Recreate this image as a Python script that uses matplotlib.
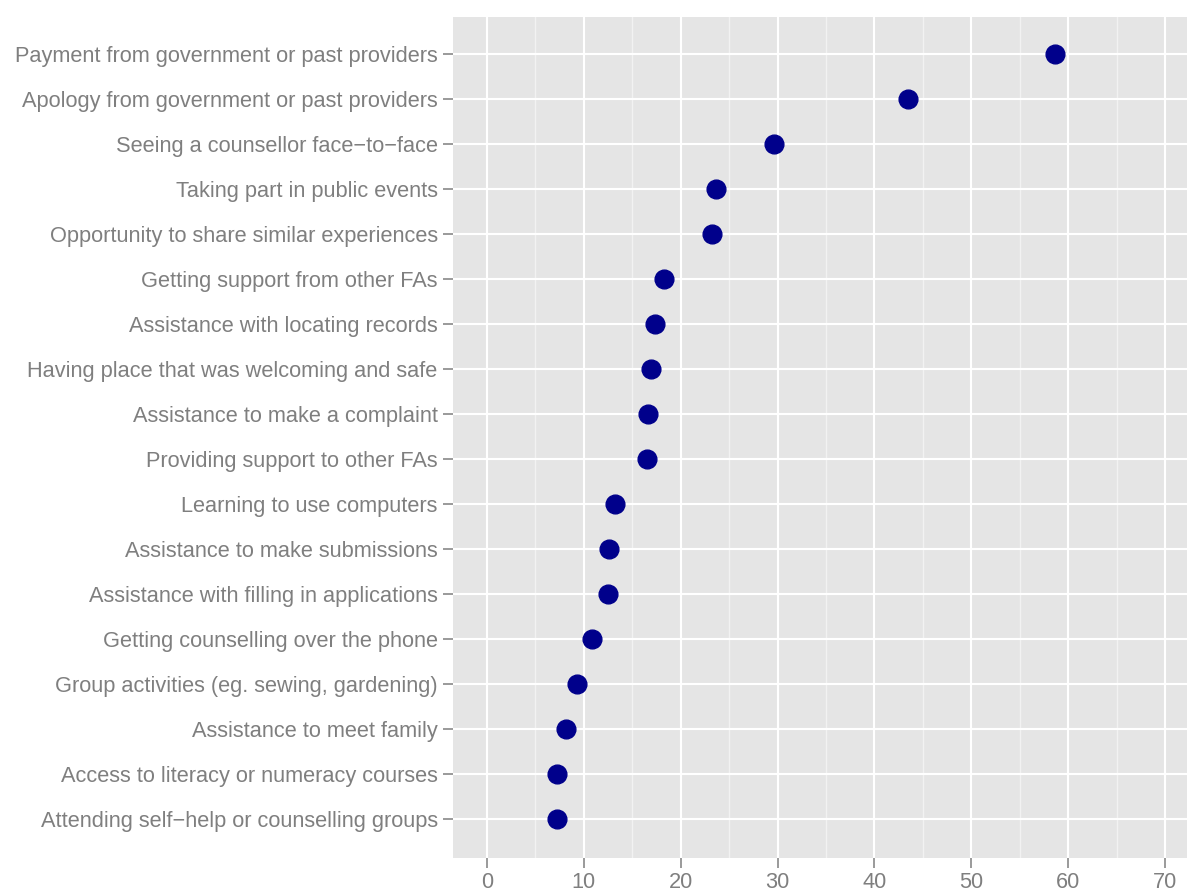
import numpy as np
import matplotlib.pyplot as plt

# Categories (top to bottom) and percentages
a_labels = [
    "Payment from government or past providers",
    "Apology from government or past providers",
    "Seeing a counsellor face\u2212to\u2212face",
    "Taking part in public events",
    "Opportunity to share similar experiences",
    "Getting support from other FAs",
    "Assistance with locating records",
    "Having place that was welcoming and safe",
    "Assistance to make a complaint",
    "Providing support to other FAs",
    "Learning to use computers",
    "Assistance to make submissions",
    "Assistance with filling in applications",
    "Getting counselling over the phone",
    "Group activities (eg. sewing, gardening)",
    "Assistance to meet family",
    "Access to literacy or numeracy courses",
    "Attending self\u2212help or counselling groups",
]
a_values = [58.6, 43.5, 29.6, 23.6, 23.2, 18.3, 17.4, 16.9, 16.6, 16.5,
            13.2, 12.6, 12.5, 10.8, 9.3, 8.2, 7.2, 7.2]
a_xticks = [0, 10, 20, 30, 40, 50, 60, 70]

plt.rcParams["font.family"] = ["Liberation Sans", "DejaVu Sans"]

fig = plt.figure(figsize=(11.87, 8.91), dpi=100)
ax = fig.add_axes([453 / 1187, 33 / 891, 746 / 1187, 841 / 891])

n = len(a_labels)
y_pos = np.arange(n, 0, -1)

ax.set_facecolor("#e5e5e5")
for s in ax.spines.values():
    s.set_visible(False)

ax.set_xlim(-3.5, 73.5)
ax.set_ylim(1 - 39 / 45, n + 37 / 45)

ax.set_xticks(a_xticks)
ax.set_xticks(np.arange(5, 75, 10), minor=True)
ax.set_yticks(y_pos)
ax.set_yticklabels(a_labels)

ax.grid(True, which="major", color="white", linewidth=1.5)
ax.grid(True, which="minor", axis="x", color="#f2f2f2", linewidth=1.0)
ax.set_axisbelow(True)

ax.tick_params(axis="both", which="major", colors="#7f7f7f", labelsize=15.7,
               length=7, width=1.1, pad=4)
ax.tick_params(axis="both", which="minor", length=0)
ax.tick_params(axis="x", pad=3)

ax.plot(a_values, y_pos, linestyle="none", marker="o", markersize=13.5,
        color="#00008b", zorder=3)

fig.savefig("out.png", dpi=100)
